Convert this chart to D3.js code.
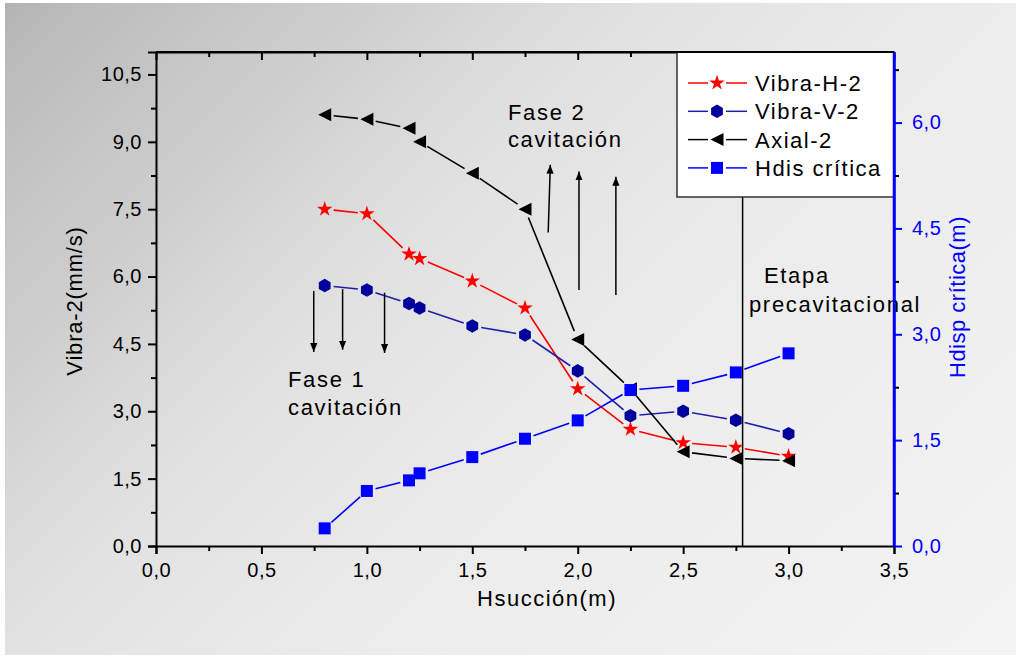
<!DOCTYPE html>
<html><head><meta charset="utf-8">
<script src="https://cdn.jsdelivr.net/npm/d3@7"></script>
<style>
html,body{margin:0;padding:0;background:#fff;}
svg{display:block;font-family:"Liberation Sans",Arial,sans-serif;}
</style></head>
<body>
<script>
// ---- data ----
const hsuccion = [0.8, 1.0, 1.2, 1.25, 1.5, 1.75, 2.0, 2.25, 2.5, 2.75, 3.0];
const vibraH2  = [7.5, 7.4, 6.5, 6.4, 5.9, 5.3, 3.5, 2.6, 2.3, 2.2, 2.0];
const vibraV2  = [5.8, 5.7, 5.4, 5.3, 4.9, 4.7, 3.9, 2.9, 3.0, 2.8, 2.5];
const axial2   = [9.6, 9.5, 9.3, 9.0, 8.3, 7.5, 4.6, 3.5, 2.1, 1.95, 1.9];
const hdisCritica = [0.25, 0.78, 0.93, 1.03, 1.26, 1.52, 1.78, 2.21, 2.27, 2.46, 2.73];
const seriesNames = ["Vibra-H-2", "Vibra-V-2", "Axial-2", "Hdis crítica"];
const xTicks = [0, 0.5, 1.0, 1.5, 2.0, 2.5, 3.0, 3.5];
const yLeftTicks = [0, 1.5, 3.0, 4.5, 6.0, 7.5, 9.0, 10.5];
const yRightTicks = [0, 1.5, 3.0, 4.5, 6.0];
const stageLineX = 2.782;
// arrows [x1, y1, x2, y2] in data units (left axis)
const arrowsDown = [[0.748, 5.68, 0.748, 4.32], [0.885, 5.72, 0.885, 4.37], [1.084, 5.64, 1.084, 4.30]];
const arrowsUp = [[1.860, 6.98, 1.870, 8.49], [2.006, 5.70, 2.006, 8.34], [2.181, 5.59, 2.181, 8.22]];
const notes = [
  {text: "Fase 1", x: 0.626, y: 3.54},
  {text: "cavitación", x: 0.626, y: 2.92},
  {text: "Fase 2", x: 1.669, y: 9.49},
  {text: "cavitación", x: 1.669, y: 8.89},
  {text: "Etapa", x: 2.883, y: 5.86},
  {text: "precavitacional", x: 2.812, y: 5.22}
];

const W = 1016, H = 657;
const svg = d3.select("body").append("svg").attr("width", W).attr("height", H);
const defs = svg.append("defs");
const grad = defs.append("linearGradient").attr("id", "bg").attr("gradientUnits", "userSpaceOnUse")
  .attr("x1", 0).attr("y1", 0).attr("x2", 800).attr("y2", 800);
[[0, "#b2b2b2"], [0.06, "#bdbdbd"], [0.25, "#d0d0d0"], [0.4, "#e1e1e1"], [0.63, "#ececec"], [1, "#f3f3f3"]]
  .forEach(([o, c]) => grad.append("stop").attr("offset", o).attr("stop-color", c));
svg.append("rect").attr("x", 5).attr("y", 3).attr("width", W - 5).attr("height", H - 5).attr("fill", "url(#bg)");

defs.append("marker").attr("id", "ah").attr("viewBox", "0 0 10 10").attr("refX", 10).attr("refY", 5)
  .attr("markerWidth", 9).attr("markerHeight", 9).attr("markerUnits", "userSpaceOnUse").attr("orient", "auto")
  .append("path").attr("d", "M0,1 L10,5 L0,9 Z").attr("fill", "#000");

const L = 156, R = 894, T = 52, B = 546;
const x = d3.scaleLinear().domain([0, 3.5]).range([L, R]);
const yL = d3.scaleLinear().domain([0, 11]).range([B, T]);
const yR = d3.scaleLinear().domain([0, 7]).range([B, T]);
const fmt = d => d3.format(".1f")(d).replace(".", ",");

// minor ticks
function minor(arr, step) { const out = []; for (let i = 0; i < arr.length - 1; i++) out.push(arr[i] + step); return out; }
const xMinor = minor(xTicks, 0.25);
const yLMinor = minor(yLeftTicks, 0.75);
const yRMinor = minor(yRightTicks, 0.75).concat([6.75]);

const tickFont = g => g.selectAll("text").attr("font-size", 20).style("letter-spacing", "0.5px")
  .attr("font-family", '"Liberation Sans",Arial,sans-serif');

// vertical stage line (under legend)
svg.append("line").attr("x1", x(stageLineX)).attr("x2", x(stageLineX)).attr("y1", yL(11)).attr("y2", yL(0))
  .attr("stroke", "#000").attr("stroke-width", 1.5);

// axes
const gl = svg.append("g").attr("transform", `translate(${L},0)`)
  .call(d3.axisLeft(yL).tickValues(yLeftTicks).tickFormat(fmt).tickSize(8).tickPadding(6));
svg.append("g").attr("transform", `translate(${L},0)`).call(d3.axisLeft(yL).tickValues(yLMinor).tickFormat("").tickSize(5))
  .call(g => g.select(".domain").remove());
const gb = svg.append("g").attr("transform", `translate(0,${B})`)
  .call(d3.axisBottom(x).tickValues(xTicks).tickFormat(fmt).tickSize(8).tickPadding(9));
svg.append("g").attr("transform", `translate(0,${B})`).call(d3.axisBottom(x).tickValues(xMinor).tickFormat("").tickSize(5))
  .call(g => g.select(".domain").remove());
// top frame with inward ticks
svg.append("g").attr("transform", `translate(0,${T})`).call(d3.axisBottom(x).tickValues(xTicks).tickFormat("").tickSize(8).tickSizeOuter(0));
svg.append("g").attr("transform", `translate(0,${T})`).call(d3.axisBottom(x).tickValues(xMinor).tickFormat("").tickSize(5))
  .call(g => g.select(".domain").remove());
// right axis blue
const gr = svg.append("g").attr("transform", `translate(${R},0)`)
  .call(d3.axisRight(yR).tickValues(yRightTicks).tickFormat(fmt).tickSize(8).tickPadding(10).tickSizeOuter(0));
svg.append("g").attr("transform", `translate(${R},0)`).call(d3.axisRight(yR).tickValues(yRMinor).tickFormat("").tickSize(5))
  .call(g => g.select(".domain").remove());

svg.selectAll(".domain").attr("stroke-width", 2);
svg.selectAll(".tick line").attr("stroke-width", 2);
[gl, gb, gr].forEach(tickFont);
gr.selectAll("line,path").attr("stroke", "#0000ff");
gr.selectAll("text").attr("fill", "#0000ff");
gr.select(".domain").attr("stroke-width", 2.5);
svg.selectAll("g").filter(function(){ return this.parentNode === svg.node() && false; });
// blue minor ticks
svg.selectAll("g").each(function(){ });

// axis titles
svg.append("text").attr("transform", `translate(82,${(T + B) / 2 + 2}) rotate(-90)`).attr("text-anchor", "middle")
  .attr("font-size", 22).style("letter-spacing", "0.8px").text("Vibra-2(mm/s)");
svg.append("text").attr("x", (L + R) / 2 + 22).attr("y", 606).attr("text-anchor", "middle")
  .attr("font-size", 22).style("letter-spacing", "1.5px").text("Hsucción(m)");
svg.append("text").attr("transform", `translate(965,297) rotate(-90)`).attr("text-anchor", "middle")
  .attr("font-size", 22).attr("fill", "#0000ff").style("letter-spacing", "0.5px").text("Hdisp crítica(m)");

// series
const series = [
  {name: seriesNames[0], vals: vibraH2, scale: yL, line: "#ff0000", fill: "#ff0000", sym: "star"},
  {name: seriesNames[1], vals: vibraV2, scale: yL, line: "#1f1fa8", fill: "#00009c", sym: "hex"},
  {name: seriesNames[2], vals: axial2, scale: yL, line: "#000000", fill: "#000000", sym: "tri"},
  {name: seriesNames[3], vals: hdisCritica, scale: yR, line: "#0000ff", fill: "#0000ff", sym: "sq"}
];
function symPath(sym) {
  if (sym === "star") return d3.symbol(d3.symbolStar, 75)();
  if (sym === "sq") return "M-6,-6H6V6H-6Z";
  if (sym === "tri") return "M-6.5,0L6.5,-6.5L6.5,6.5Z";
  // hexagon pointy top
  const r = 6.8; const pts = d3.range(6).map(i => { const a = Math.PI / 3 * i - Math.PI / 2; return [r * Math.cos(a), r * Math.sin(a)]; });
  return "M" + pts.map(p => p.join(",")).join("L") + "Z";
}
const gap = 9;
series.forEach(s => {
  const pts = hsuccion.map((h, i) => [x(h), s.scale(s.vals[i])]);
  const g = svg.append("g");
  for (let i = 0; i < pts.length - 1; i++) {
    const [x1, y1] = pts[i], [x2, y2] = pts[i + 1];
    const dx = x2 - x1, dy = y2 - y1, len = Math.hypot(dx, dy);
    if (len <= 2 * gap) continue;
    const ux = dx / len, uy = dy / len;
    g.append("line").attr("x1", x1 + ux * gap).attr("y1", y1 + uy * gap).attr("x2", x2 - ux * gap).attr("y2", y2 - uy * gap)
      .attr("stroke", s.line).attr("stroke-width", 1.6);
  }
  g.selectAll("path.m").data(pts).join("path").attr("class", "m")
    .attr("transform", d => `translate(${d[0]},${d[1]})`).attr("d", symPath(s.sym)).attr("fill", s.fill);
});

// arrows
arrowsDown.concat(arrowsUp).forEach(a => {
  svg.append("line").attr("x1", x(a[0])).attr("y1", yL(a[1])).attr("x2", x(a[2])).attr("y2", yL(a[3]))
    .attr("stroke", "#000").attr("stroke-width", 1.5).attr("marker-end", "url(#ah)");
});

// notes
notes.forEach(n => {
  svg.append("text").attr("x", x(n.x)).attr("y", yL(n.y)).attr("font-size", 22).style("letter-spacing", "1.7px")
    .attr("fill", "#000").text(n.text);
});

// legend
const lg = svg.append("g");
lg.append("rect").attr("x", 677).attr("y", T).attr("width", R - 677).attr("height", 145)
  .attr("fill", "#fff").attr("stroke", "#333").attr("stroke-width", 1.5);
series.forEach((s, i) => {
  const cy = 83 + i * 28.3;
  lg.append("line").attr("x1", 688).attr("x2", 708).attr("y1", cy).attr("y2", cy).attr("stroke", s.line).attr("stroke-width", 1.5);
  lg.append("line").attr("x1", 726).attr("x2", 747).attr("y1", cy).attr("y2", cy).attr("stroke", s.line).attr("stroke-width", 1.5);
  lg.append("path").attr("transform", `translate(717,${cy})`).attr("d", symPath(s.sym)).attr("fill", s.fill);
  lg.append("text").attr("x", 755).attr("y", cy + 8).attr("font-size", 22).style("letter-spacing", "1.5px").text(s.name);
});
// redraw right axis line on top of legend edge
svg.append("line").attr("x1", R).attr("x2", R).attr("y1", T).attr("y2", B).attr("stroke", "#0000ff").attr("stroke-width", 2.5);
svg.append("line").attr("x1", L).attr("x2", R).attr("y1", T).attr("y2", T).attr("stroke", "#000").attr("stroke-width", 2);
</script>
</body></html>
